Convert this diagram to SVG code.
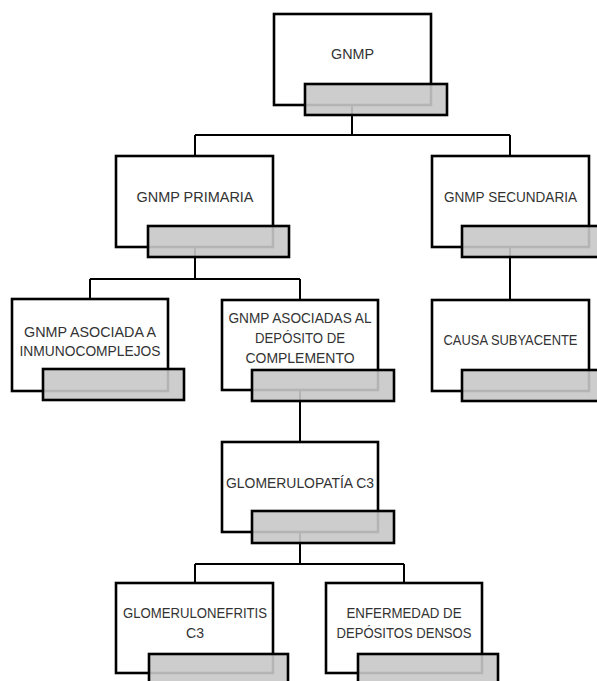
<svg xmlns="http://www.w3.org/2000/svg" width="597" height="681" viewBox="0 0 597 681">
<style>
.box{fill:#ffffff;stroke:#000000;stroke-width:2.6}
.bar{fill:#c8c8c8;fill-opacity:0.9;stroke:#000000;stroke-width:2.6}
.lbl{font-family:"Liberation Sans",Arial,sans-serif;font-size:14.5px;fill:#333333;text-anchor:middle}
.con{fill:none;stroke:#000000;stroke-width:2}
</style>
<rect x="0" y="0" width="597" height="681" fill="#ffffff"/>
<g id="connectors">
<path class="con" d="M352 105V135M195 135H510M195 135V156M510 135V156"/>
<path class="con" d="M195 247V279M90 279H300M90 279V299M300 279V300"/>
<path class="con" d="M510 247V300"/>
<path class="con" d="M300 390V442"/>
<path class="con" d="M300 532V564M195 564H404M195 564V583M404 564V583"/>
</g>
<g id="n-gnmp">
<rect class="box" x="274" y="14" width="157" height="91"/>
<text class="lbl" x="352.5" y="59" textLength="43" lengthAdjust="spacingAndGlyphs">GNMP</text>
<rect class="bar" x="305" y="84" width="142" height="31"/>
</g>
<g id="n-primaria">
<rect class="box" x="116" y="156" width="157" height="91"/>
<text class="lbl" x="195" y="201.5" textLength="117" lengthAdjust="spacingAndGlyphs">GNMP PRIMARIA</text>
<rect class="bar" x="148" y="226" width="141" height="31"/>
</g>
<g id="n-secundaria">
<rect class="box" x="432" y="156" width="157" height="91"/>
<text class="lbl" x="510.5" y="201.5" textLength="133" lengthAdjust="spacingAndGlyphs">GNMP SECUNDARIA</text>
<rect class="bar" x="462" y="226" width="143" height="31"/>
</g>
<g id="n-inmuno">
<rect class="box" x="12" y="299" width="156" height="92"/>
<text class="lbl" x="90" y="337" textLength="132" lengthAdjust="spacingAndGlyphs">GNMP ASOCIADA A</text>
<text class="lbl" x="90" y="356" textLength="141" lengthAdjust="spacingAndGlyphs">INMUNOCOMPLEJOS</text>
<rect class="bar" x="43" y="369" width="141" height="31"/>
</g>
<g id="n-complemento">
<rect class="box" x="222" y="300" width="156" height="90"/>
<text class="lbl" x="300" y="323" textLength="143" lengthAdjust="spacingAndGlyphs">GNMP ASOCIADAS AL</text>
<text class="lbl" x="300" y="343" textLength="90" lengthAdjust="spacingAndGlyphs">DEPÓSITO DE</text>
<text class="lbl" x="300" y="362.5" textLength="109" lengthAdjust="spacingAndGlyphs">COMPLEMENTO</text>
<rect class="bar" x="252" y="370" width="142" height="31"/>
</g>
<g id="n-causa">
<rect class="box" x="432" y="300" width="157" height="91"/>
<text class="lbl" x="510.5" y="345" textLength="134" lengthAdjust="spacingAndGlyphs">CAUSA SUBYACENTE</text>
<rect class="bar" x="462" y="370" width="143" height="31"/>
</g>
<g id="n-glomerulopatia">
<rect class="box" x="222" y="442" width="156" height="90"/>
<text class="lbl" x="300" y="488" textLength="148" lengthAdjust="spacingAndGlyphs">GLOMERULOPATÍA C3</text>
<rect class="bar" x="252" y="511" width="142" height="32"/>
</g>
<g id="n-glomerulonefritis">
<rect class="box" x="116" y="583" width="157" height="90"/>
<text class="lbl" x="195" y="618" textLength="144" lengthAdjust="spacingAndGlyphs">GLOMERULONEFRITIS</text>
<text class="lbl" x="195" y="638" textLength="18" lengthAdjust="spacingAndGlyphs">C3</text>
<rect class="bar" x="149" y="654" width="139" height="35"/>
</g>
<g id="n-densos">
<rect class="box" x="326" y="583" width="156" height="90"/>
<text class="lbl" x="404" y="618" textLength="115" lengthAdjust="spacingAndGlyphs">ENFERMEDAD DE</text>
<text class="lbl" x="404" y="638" textLength="135" lengthAdjust="spacingAndGlyphs">DEPÓSITOS DENSOS</text>
<rect class="bar" x="358" y="654" width="140" height="35"/>
</g>
</svg>
